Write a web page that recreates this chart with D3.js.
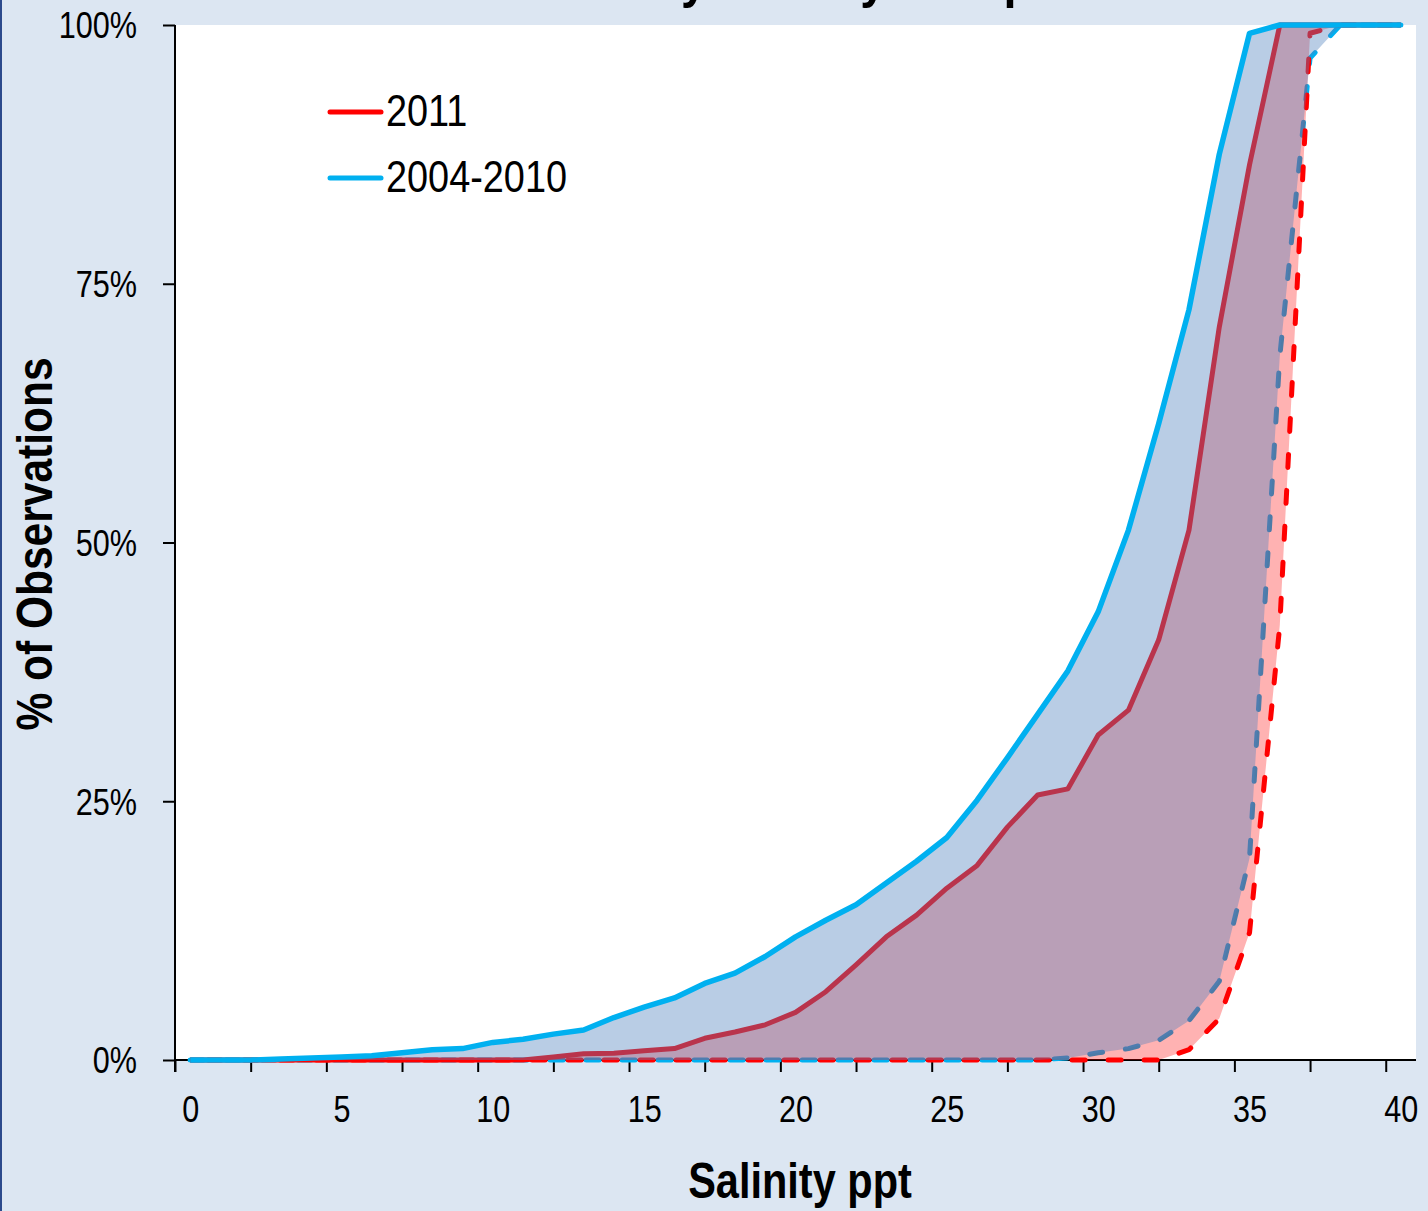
<!DOCTYPE html>
<html>
<head>
<meta charset="utf-8">
<script src="https://cdn.jsdelivr.net/npm/d3@7"></script>
<style>
  html, body { margin: 0; padding: 0; background: #dce6f2; }
  svg { display: block; }
  text { font-family: 'Liberation Sans Narrow', 'Arial Narrow', 'Liberation Sans', Arial, sans-serif; }
</style>
</head>
<body>
<svg id="chart" width="1428" height="1211"></svg>
<script>
// ---------------- DATA ----------------
const salinity = [0,1,2,3,4,5,6,7,8,9,10,11,12,13,14,15,16,17,18,19,20,
                  21,22,23,24,25,26,27,28,29,30,31,32,33,34,35,36,37,38,39,40];

// 2004-2010 envelope (cumulative % of observations)
const upper0410 = [0,0,0,0.1,0.2,0.3,0.4,0.7,1.0,1.1,1.7,2.0,2.5,2.9,4.1,5.1,6.0,7.4,8.4,10.0,11.9,
                   13.5,15.0,17.1,19.2,21.5,25.1,29.2,33.4,37.6,43.3,51.2,61.5,72.5,87.5,99.2,100,100,100,100,100];
const lower0410 = [0,0,0,0,0,0,0,0,0,0,0,0,0,0,0,0,0,0,0,0,0,
                   0,0,0,0,0,0,0,0,0.2,0.7,1.1,1.9,3.8,7.6,19.5,68,96.8,100,100,100];

// 2011 envelope
const upper2011 = [0,0,0,0,0,0,0,0,0,0,0,0,0.3,0.6,0.65,0.9,1.1,2.1,2.7,3.4,4.6,
                   6.6,9.2,11.9,14.0,16.6,18.8,22.5,25.6,26.2,31.4,33.8,40.6,51.2,70.8,86.5,100,100,100,100,100];
const lower2011 = [0,0,0,0,0,0,0,0,0,0,0,0,0,0,0,0,0,0,0,0,0,
                   0,0,0,0,0,0,0,0,0,0,0,0,1.0,4.0,12.3,42,99.2,100,100,100];

const xTickLabels = [0,5,10,15,20,25,30,35,40];
const yTickLabels = [0,25,50,75,100];
const legendLabels = ["2011", "2004-2010"];
const titleText = "Monthly Salinity Comparison";
const xTitle = "Salinity ppt";
const yTitle = "%  of Observations";

// ---------------- CHART ----------------
const svg = d3.select("#chart");
const W = 1428, H = 1211;
const plot = {left: 175, right: 1416, top: 25, bottom: 1060};

const x = d3.scaleLinear().domain([-0.5, 40.5]).range([plot.left, plot.right]);
const y = d3.scaleLinear().domain([0, 100]).range([plot.bottom, plot.top]);

// condense a text horizontally (narrow face substitute)
function narrow(sel, factor) {
  sel.each(function() {
    const w = this.getComputedTextLength();
    this.setAttribute("textLength", (w * factor).toFixed(1));
    this.setAttribute("lengthAdjust", "spacingAndGlyphs");
  });
}

// background
svg.append("rect").attr("width", W).attr("height", H).attr("fill", "#dce6f2");
svg.append("rect").attr("x", 0).attr("y", 0).attr("width", 2).attr("height", H).attr("fill", "#2c4a8c");

// title (cut off at the top, as in the original)
svg.append("text")
  .attr("x", 850).attr("y", -3)
  .attr("text-anchor", "middle")
  .attr("font-size", 52).attr("font-weight", "bold").attr("fill", "#000")
  .text(titleText).call(narrow, 0.9);

// plot area
svg.append("rect")
  .attr("x", plot.left).attr("y", plot.top)
  .attr("width", plot.right - plot.left).attr("height", plot.bottom - plot.top)
  .attr("fill", "#ffffff");

// axes
const gAxes = svg.append("g");
const yAxis = d3.axisLeft(y).tickValues(yTickLabels).tickSize(12).tickPadding(26)
  .tickFormat(d => d + "%");
const gy = gAxes.append("g").attr("transform", `translate(${plot.left},0)`).call(yAxis);
gy.select(".domain").remove();
gy.selectAll(".tick line").attr("stroke", "#000").attr("stroke-width", 2);
gy.selectAll(".tick text").attr("font-size", 36).attr("fill", "#000")
  .attr("dy", "0.36em").call(narrow, 0.85);
gAxes.append("line").attr("x1", plot.left).attr("x2", plot.left)
  .attr("y1", plot.top).attr("y2", plot.bottom + 12).attr("stroke", "#000").attr("stroke-width", 2);

// x axis tick marks (between categories, every 2.5)
const xTickMarks = d3.range(0, 17).map(k => -0.5 + 2.5 * k);
const xAxisMarks = d3.axisBottom(x).tickValues(xTickMarks).tickSize(12).tickFormat("");
const gxm = gAxes.append("g").attr("transform", `translate(0,${plot.bottom})`).call(xAxisMarks);
gxm.select(".domain").remove();
gxm.selectAll(".tick line").attr("stroke", "#000").attr("stroke-width", 2);
gAxes.append("line").attr("x1", plot.left).attr("x2", plot.right)
  .attr("y1", plot.bottom).attr("y2", plot.bottom).attr("stroke", "#000").attr("stroke-width", 2);
const xAxisLabels = d3.axisBottom(x).tickValues(xTickLabels).tickSize(0).tickPadding(36);
const gxl = gAxes.append("g").attr("transform", `translate(0,${plot.bottom})`).call(xAxisLabels);
gxl.select(".domain").remove();
gxl.selectAll(".tick text").attr("font-size", 36).attr("fill", "#000")
  .call(narrow, 0.85);
svg.selectAll("g").attr("font-family", null);

// series helpers
const idx = salinity.map((d, i) => i);
const line = arr => d3.line().x(i => x(salinity[i])).y(i => y(arr[i]))(idx);
const area = (lo, hi) => d3.area().x(i => x(salinity[i])).y0(i => y(lo[i])).y1(i => y(hi[i]))(idx);

const gS = svg.append("g");
// blue dashed (lower 2004-2010)
gS.append("path").attr("d", line(lower0410)).attr("fill", "none")
  .attr("stroke", "#00b0f0").attr("stroke-width", 5)
  .attr("stroke-dasharray", "13,23").attr("stroke-linecap", "round").attr("stroke-linejoin", "round");
// red band
gS.append("path").attr("d", area(lower2011, upper2011))
  .attr("fill", "#ff0000").attr("fill-opacity", 0.3);
// red lines
gS.append("path").attr("d", line(lower2011)).attr("fill", "none")
  .attr("stroke", "#ff0000").attr("stroke-width", 5)
  .attr("stroke-dasharray", "13,23").attr("stroke-dashoffset", 18)
  .attr("stroke-linecap", "round").attr("stroke-linejoin", "round");
gS.append("path").attr("d", line(upper2011)).attr("fill", "none")
  .attr("stroke", "#ff0000").attr("stroke-width", 5).attr("stroke-linejoin", "round");
// blue band
gS.append("path").attr("d", area(lower0410, upper0410))
  .attr("fill", "#4f81bd").attr("fill-opacity", 0.4);
// blue solid (upper 2004-2010)
gS.append("path").attr("d", line(upper0410)).attr("fill", "none")
  .attr("stroke", "#00b0f0").attr("stroke-width", 5.5).attr("stroke-linejoin", "round");

// legend
const legendColors = ["#ff0000", "#00b0f0"];
const gL = svg.append("g");
legendLabels.forEach((lab, i) => {
  const yy = 112 + i * 66;
  gL.append("line").attr("x1", 330).attr("x2", 381).attr("y1", yy).attr("y2", yy)
    .attr("stroke", legendColors[i]).attr("stroke-width", 5).attr("stroke-linecap", "round");
  gL.append("text").attr("x", 386).attr("y", yy + 14)
    .attr("font-size", 44).attr("fill", "#000").text(lab).call(narrow, 0.86);
});

// axis titles
svg.append("text")
  .attr("x", 800).attr("y", 1198).attr("text-anchor", "middle")
  .attr("font-size", 50).attr("font-weight", "bold").attr("fill", "#000")
  .text(xTitle).call(narrow, 0.83);
svg.append("text")
  .attr("transform", "translate(52,544) rotate(-90)").attr("text-anchor", "middle")
  .attr("font-size", 50).attr("font-weight", "bold").attr("fill", "#000")
  .text(yTitle).call(narrow, 0.85);
</script>
</body>
</html>
